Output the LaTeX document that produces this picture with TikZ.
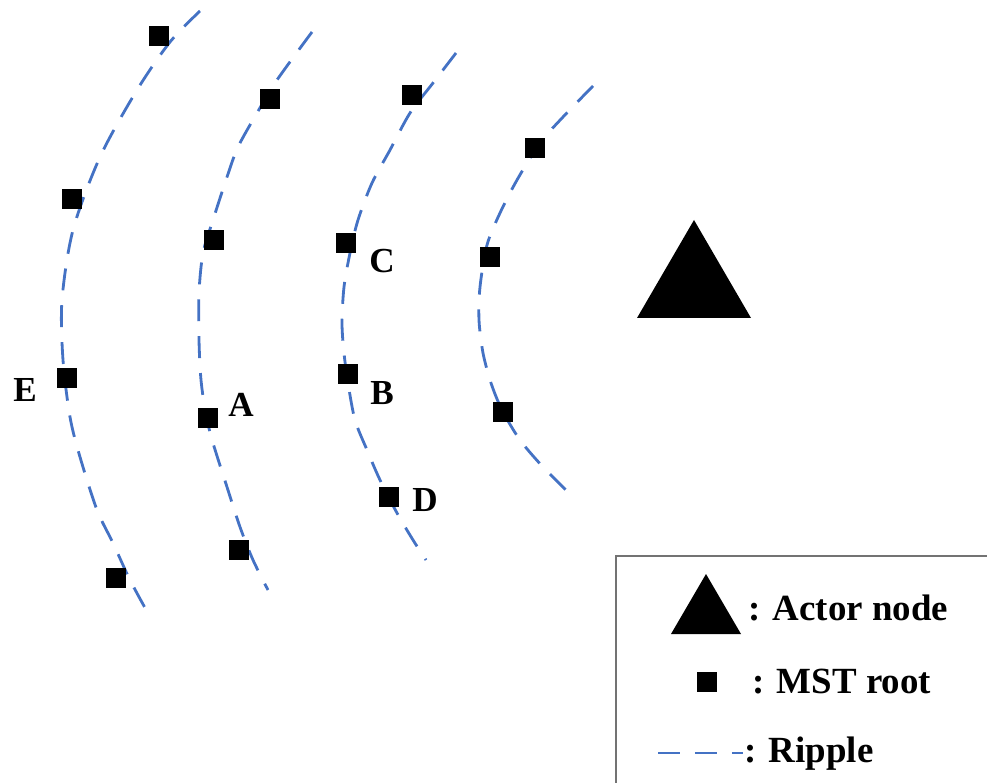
\documentclass[tikz,border=0pt]{standalone}
\usepackage{fontspec}
\setmainfont{Liberation Serif}
\usepackage{xcolor}
\definecolor{rippleblue}{HTML}{4472C4}
\usetikzlibrary{positioning}

\begin{document}
\begin{tikzpicture}[x=0.02cm,y=-0.02cm,
    root/.style={fill=black,draw=none,minimum size=0.4cm,inner sep=0pt},
    ripple/.style={rippleblue,line width=1.6pt,dash pattern=on 12.5pt off 8.5pt},
    lbl/.style={font=\fontsize{20}{24}\selectfont\bfseries,inner sep=0pt,anchor=base},
    legtext/.style={font=\fontsize{21}{25}\selectfont\bfseries,inner sep=0pt,anchor=base west}]

    \useasboundingbox (0,0) rectangle (987,783);

    \draw[ripple] plot[smooth] coordinates {(200,11) (170,42) (137,90) (100,157) (73,230) (62,300) (63,360) (70,417) (80,457) (97,510) (113,543) (130,580) (149,615)};
    \draw[ripple] plot[smooth] coordinates {(312,32) (277,80) (257,113) (238,147) (227,177) (213,220) (203,253) (199,293) (199,340) (201,380) (206,415) (213,443) (227,487) (240,527) (253,560) (268,590)};
    \draw[ripple] plot[smooth] coordinates {(456,53) (433,83) (410,113) (390,150) (372,183) (358,220) (350,253) (344,287) (342,323) (344,353) (348,383) (355,420) (367,450) (380,480) (397,513) (413,540) (426,560)};
    \draw[ripple] plot[smooth] coordinates {(593,86) (563,117) (540,143) (517,180) (500,213) (487,245) (480,287) (479,320) (483,353) (491,383) (502,410) (520,440) (543,467) (569,493)};

    \node[root] (r1a) at (159,36){};
    \node[root] (r1b) at (72,199){};
    \node[root] (e) at (67,378){};
    \node[root] (r1d) at (116,578){};

    \node[root] (r2a) at (270,99){};
    \node[root] (r2b) at (214,240){};
    \node[root] (a) at (208,418){};
    \node[root] (r2d) at (239,550){};

    \node[root] (r3a) at (412,95){};
    \node[root] (c) at (346,243){};
    \node[root] (b) at (348,374){};
    \node[root] (d) at (389,497){};

    \node[root] (r4a) at (535,148){};
    \node[root] (r4b) at (490,257){};
    \node[root] (r4c) at (503,412){};

    \node[lbl] (lc) at (382,273){C};
    \node[lbl] (lb) at (382,405){B};
    \node[lbl] (ld) at (425,512){D};
    \node[lbl] (la) at (241,417){A};
    \node[lbl] (le) at (25,402){E};

    \fill (637,318) -- (694,220) -- (751,318) -- cycle;

    \draw[black!55,line width=0.6pt] (987,556) -- (616,556) -- (616,783);
    \fill (671,634) -- (706,574) -- (741,634) -- cycle;
    \node[legtext] (lactor) at (748,620){: Actor node};
    \node[root] (lroot) at (707,682){};
    \node[legtext] (lmst) at (752,693){: MST root};
    \coordinate (ldash0) at (658,753);
    \coordinate (ldash1) at (743,753);
    \draw[ripple] (ldash0) -- (ldash1);
    \node[legtext] (lripple) at (744,762){: Ripple};

\end{tikzpicture}
\end{document}
